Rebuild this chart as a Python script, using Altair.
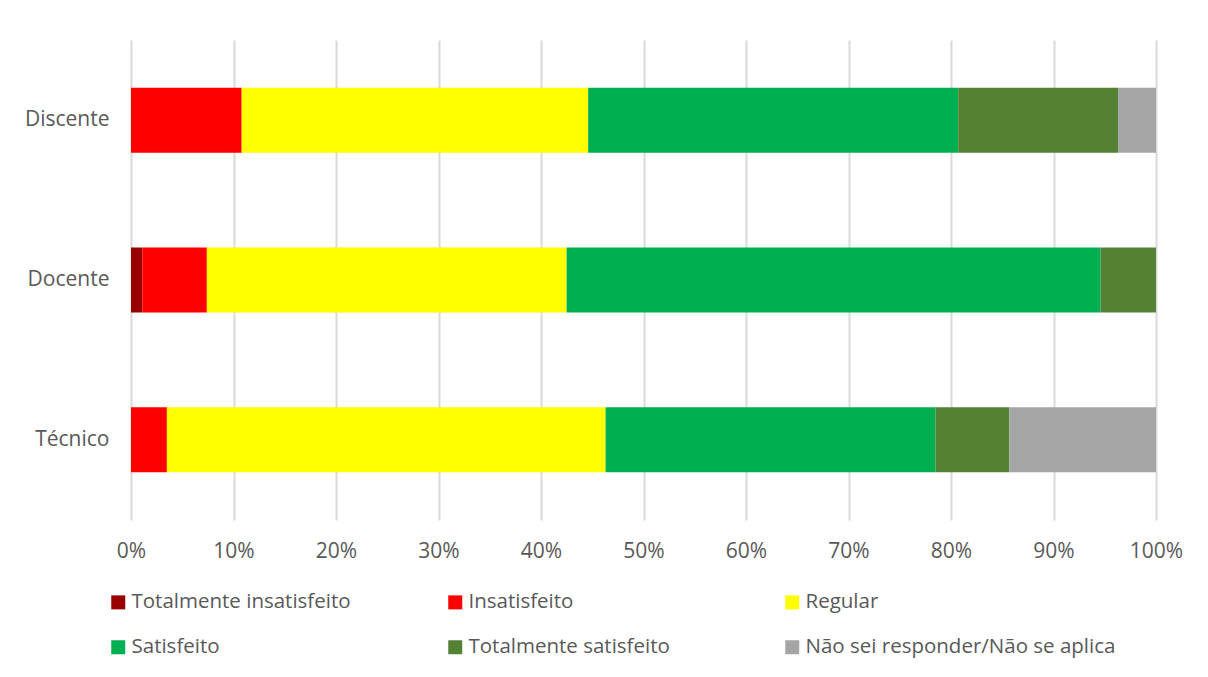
import altair as alt
import pandas as pd

categories = ["Discente", "Docente", "Técnico"]
series = ["Totalmente insatisfeito", "Insatisfeito", "Regular", "Satisfeito",
          "Totalmente satisfeito", "Não sei responder/Não se aplica"]
colors = ["#9b0000", "#ff0000", "#ffff00", "#00b050", "#548235", "#a5a5a5"]

totalmente_insatisfeito = [0.0, 1.1, 0.0]
insatisfeito = [10.8, 6.3, 3.5]
regular = [33.8, 35.1, 42.8]
satisfeito = [36.1, 52.1, 32.2]
totalmente_satisfeito = [15.6, 5.4, 7.2]
nao_sei = [3.7, 0.0, 14.3]

x_ticks = [0, 10, 20, 30, 40, 50, 60, 70, 80, 90, 100]

values = [totalmente_insatisfeito, insatisfeito, regular, satisfeito,
          totalmente_satisfeito, nao_sei]
rows = []
for si, (s, vals) in enumerate(zip(series, values)):
    for c, v in zip(categories, vals):
        rows.append({"categoria": c, "serie": s, "ordem": si, "valor": v})
df = pd.DataFrame(rows)

FONT = "Open Sans"
GRAY = "#595959"

chart = alt.Chart(df).mark_bar(size=65).encode(
    y=alt.Y("categoria:N", sort=categories, title=None,
            scale=alt.Scale(paddingInner=0.594, paddingOuter=0.3),
            axis=alt.Axis(ticks=False, domain=False, grid=False,
                          labelFontSize=21, labelColor=GRAY, labelFont=FONT,
                          labelPadding=22)),
    x=alt.X("valor:Q", stack="normalize", title=None,
            scale=alt.Scale(domain=[0, 1], nice=False),
            axis=alt.Axis(values=[t / 100 for t in x_ticks], format=".0%",
                          grid=True, gridColor="#d9d9d9", gridWidth=2,
                          ticks=False, domain=False, labelFlush=False,
                          labelFontSize=21, labelColor=GRAY, labelFont=FONT,
                          labelPadding=20)),
    color=alt.Color("serie:N", sort=series,
                    scale=alt.Scale(domain=series, range=colors),
                    legend=alt.Legend(title=None, orient="none",
                                      legendX=-23, legendY=552,
                                      direction="horizontal", columns=3,
                                      gridAlign="all", columnPadding=3,
                                      rowPadding=24,
                                      symbolType="square", symbolSize=196,
                                      symbolStrokeWidth=0, symbolOpacity=1,
                                      labelFontSize=20.5, labelColor=GRAY,
                                      labelFont=FONT, labelOffset=3,
                                      labelLimit=400)),
    order=alt.Order("ordem:Q", sort="ascending"),
).properties(
    width=1025,
    height=480,
    autosize=alt.AutoSizeParams(type="none"),
    padding={"left": 123, "top": 32, "right": 30, "bottom": 150},
).configure(font=FONT).configure_view(strokeWidth=0)

chart.save("out.html", embed_options={"renderer": "svg", "actions": False})
